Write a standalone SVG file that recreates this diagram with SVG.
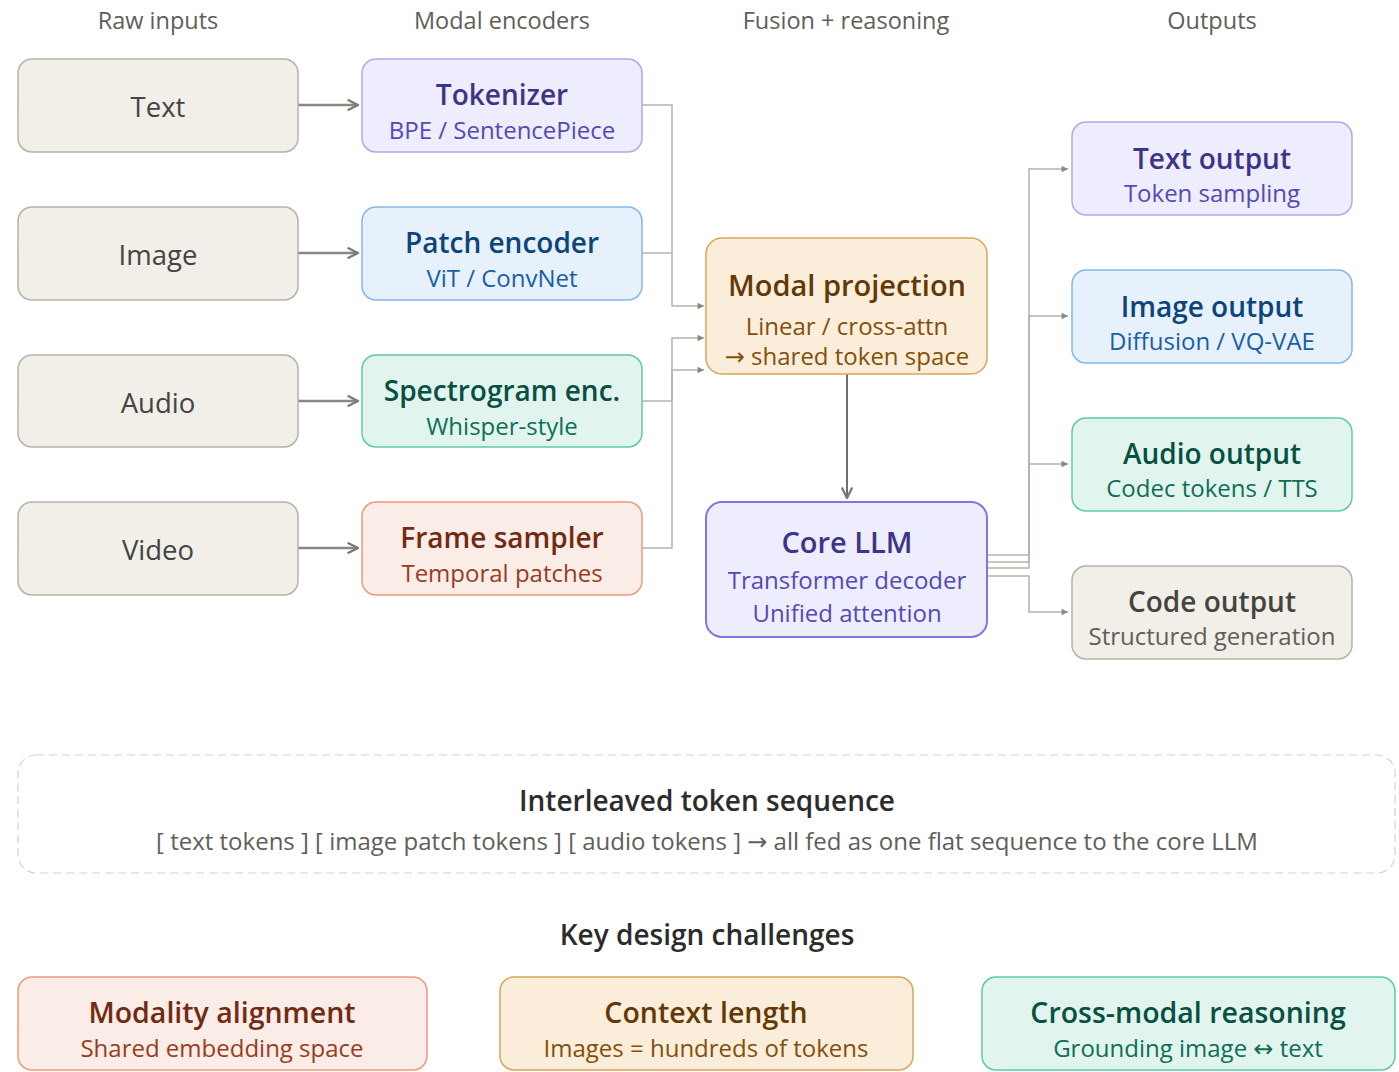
<svg xmlns="http://www.w3.org/2000/svg" width="1399" height="1072" viewBox="0 0 1399 1072">
  <defs>
    <marker id="chevBig" viewBox="0 0 10 10" refX="9" refY="5" markerWidth="13" markerHeight="13" orient="auto" markerUnits="userSpaceOnUse">
      <path d="M1,1 L9,5 L1,9" fill="none" stroke="#7a7973" stroke-width="1.8"/>
    </marker>
    <marker id="tri" viewBox="0 0 10 10" refX="9" refY="5" markerWidth="8" markerHeight="8" orient="auto" markerUnits="userSpaceOnUse">
      <path d="M1,1 L9,5 L1,9 Z" fill="#888780"/>
    </marker>
  </defs>
  <style>
    text { font-family: "Open Sans", "Noto Sans", "Liberation Sans", sans-serif; text-anchor: middle; }
    .ar { font-family: "DejaVu Sans", sans-serif; }
    .hdr { font-size: 23.5px; fill: #5f5e5a; }
    .in rect { fill: #f1efe8; stroke: #b4b2a9; stroke-width: 1.5; }
    .in text { font-size: 27.5px; fill: #444441; }
    .t { font-size: 28px; font-weight: 600; }
    .s { font-size: 24px; }
    .big { font-size: 29px; }
    .purple rect { fill: #eeedfe; stroke: #afa9ec; stroke-width: 1.5; }
    .purple .t { fill: #3c3489; } .purple .s { fill: #534ab7; }
    .blue rect { fill: #e6f1fb; stroke: #85b7eb; stroke-width: 1.5; }
    .blue .t { fill: #0c447c; } .blue .s { fill: #185fa5; }
    .teal rect { fill: #e1f5ee; stroke: #5dcaa5; stroke-width: 1.5; }
    .teal .t { fill: #085041; } .teal .s { fill: #0f6e56; }
    .coral rect { fill: #faece7; stroke: #f0997b; stroke-width: 1.5; }
    .coral .t { fill: #712b13; } .coral .s { fill: #993c1d; }
    .amber rect { fill: #faeeda; stroke: #d9a55c; stroke-width: 1.5; }
    .amber .t { fill: #633806; } .amber .s { fill: #854f0b; }
    .gray rect { fill: #f1efe8; stroke: #b4b2a9; stroke-width: 1.5; }
    .gray .t { fill: #444441; } .gray .s { fill: #5f5e5a; }
    .core rect { fill: #eeedfe; stroke: #7f77dd; stroke-width: 2; }
    .core .t { fill: #3c3489; } .core .s { fill: #534ab7; }
    .wire { fill: none; stroke: #b4b2a9; stroke-width: 1.5; }
    .feed { fill: none; stroke: #888780; stroke-width: 2.5; }
    .band-t { font-size: 28px; font-weight: 600; fill: #2c2c2a; }
    .band-s { font-size: 24px; fill: #5f5e5a; }
  </style>
  <rect width="1399" height="1072" fill="#ffffff"/>

  <!-- column headings -->
  <text class="hdr" x="158" y="29">Raw inputs</text>
  <text class="hdr" x="502" y="29">Modal encoders</text>
  <text class="hdr" x="846" y="29">Fusion + reasoning</text>
  <text class="hdr" x="1212" y="29">Outputs</text>

  <!-- connectors -->
  <g id="connectors">
    <!-- raw input to encoder -->
    <line class="feed" x1="298" y1="105" x2="358" y2="105" marker-end="url(#chevBig)"/>
    <line class="feed" x1="298" y1="253" x2="358" y2="253" marker-end="url(#chevBig)"/>
    <line class="feed" x1="298" y1="401" x2="358" y2="401" marker-end="url(#chevBig)"/>
    <line class="feed" x1="298" y1="548" x2="358" y2="548" marker-end="url(#chevBig)"/>
    <!-- encoders to modal projection -->
    <path class="wire" d="M642,105 H672 V306 H704" marker-end="url(#tri)"/>
    <path class="wire" d="M642,253 H672"/>
    <path class="wire" d="M642,401 H672 V338 H704" marker-end="url(#tri)"/>
    <path class="wire" d="M642,548 H672 V370 H704" marker-end="url(#tri)"/>
    <!-- projection to core -->
    <line x1="847" y1="374" x2="847" y2="498" stroke="#6f6e69" stroke-width="2" marker-end="url(#chevBig)"/>
    <!-- core to outputs -->
    <path class="wire" d="M987,555 H1029 V169 H1068" marker-end="url(#tri)"/>
    <path class="wire" d="M987,562 H1029 V316 H1068" marker-end="url(#tri)"/>
    <path class="wire" d="M987,568 H1029 V464 H1068" marker-end="url(#tri)"/>
    <path class="wire" d="M987,576 H1029 V612 H1068" marker-end="url(#tri)"/>
  </g>

  <!-- raw inputs -->
  <g id="in-text" class="in"><rect x="18" y="59" width="280" height="93" rx="14"/><text x="158" y="117">Text</text></g>
  <g id="in-image" class="in"><rect x="18" y="207" width="280" height="93" rx="14"/><text x="158" y="265">Image</text></g>
  <g id="in-audio" class="in"><rect x="18" y="355" width="280" height="92" rx="14"/><text x="158" y="413">Audio</text></g>
  <g id="in-video" class="in"><rect x="18" y="502" width="280" height="93" rx="14"/><text x="158" y="560">Video</text></g>

  <!-- encoders -->
  <g id="enc-tokenizer" class="purple"><rect x="362" y="59" width="280" height="93" rx="14"/><text class="t" x="502" y="105">Tokenizer</text><text class="s" x="502" y="139">BPE / SentencePiece</text></g>
  <g id="enc-patch" class="blue"><rect x="362" y="207" width="280" height="93" rx="14"/><text class="t" x="502" y="253">Patch encoder</text><text class="s" x="502" y="287">ViT / ConvNet</text></g>
  <g id="enc-spectrogram" class="teal"><rect x="362" y="355" width="280" height="92" rx="14"/><text class="t" x="502" y="401">Spectrogram enc.</text><text class="s" x="502" y="435">Whisper-style</text></g>
  <g id="enc-frame" class="coral"><rect x="362" y="502" width="280" height="93" rx="14"/><text class="t" x="502" y="548">Frame sampler</text><text class="s" x="502" y="582">Temporal patches</text></g>

  <!-- fusion -->
  <g id="modal-projection" class="amber"><rect x="706" y="238" width="281" height="136" rx="16"/><text class="t big" x="847" y="296">Modal projection</text><text class="s" x="847" y="335">Linear / cross-attn</text><text class="s" x="847" y="365"><tspan class="ar">→</tspan> shared token space</text></g>
  <g id="core-llm" class="core"><rect x="706" y="502" width="281" height="135" rx="16"/><text class="t big" x="847" y="553">Core LLM</text><text class="s" x="847" y="589">Transformer decoder</text><text class="s" x="847" y="622">Unified attention</text></g>

  <!-- outputs -->
  <g id="out-text" class="purple"><rect x="1072" y="122" width="280" height="93" rx="14"/><text class="t" x="1212" y="169">Text output</text><text class="s" x="1212" y="202">Token sampling</text></g>
  <g id="out-image" class="blue"><rect x="1072" y="270" width="280" height="93" rx="14"/><text class="t" x="1212" y="317">Image output</text><text class="s" x="1212" y="350">Diffusion / VQ-VAE</text></g>
  <g id="out-audio" class="teal"><rect x="1072" y="418" width="280" height="93" rx="14"/><text class="t" x="1212" y="464">Audio output</text><text class="s" x="1212" y="497">Codec tokens / TTS</text></g>
  <g id="out-code" class="gray"><rect x="1072" y="566" width="280" height="93" rx="14"/><text class="t" x="1212" y="612">Code output</text><text class="s" x="1212" y="645">Structured generation</text></g>

  <!-- token sequence band -->
  <g id="token-sequence">
    <rect x="18" y="755" width="1377" height="118" rx="18" fill="none" stroke="#d3d1c7" stroke-width="1.2" stroke-dasharray="8 5"/>
    <text class="band-t" x="707" y="811">Interleaved token sequence</text>
    <text class="band-s" x="707" y="850">[ text tokens ] [ image patch tokens ] [ audio tokens ] <tspan class="ar">→</tspan> all fed as one flat sequence to the core LLM</text>
  </g>

  <!-- design challenges -->
  <text class="band-t" x="707" y="945">Key design challenges</text>
  <g id="ch-alignment" class="coral"><rect x="18" y="977" width="409" height="93" rx="14"/><text class="t" x="222" y="1023" style="font-size:28.5px">Modality alignment</text><text class="s" x="222" y="1057">Shared embedding space</text></g>
  <g id="ch-context" class="amber"><rect x="500" y="977" width="413" height="93" rx="14"/><text class="t" x="706" y="1023" style="font-size:28.5px">Context length</text><text class="s" x="706" y="1057">Images = hundreds of tokens</text></g>
  <g id="ch-crossmodal" class="teal"><rect x="982" y="977" width="413" height="93" rx="14"/><text class="t" x="1188" y="1023" style="font-size:28.5px">Cross-modal reasoning</text><text class="s" x="1188" y="1057">Grounding image <tspan class="ar">↔</tspan> text</text></g>
</svg>
